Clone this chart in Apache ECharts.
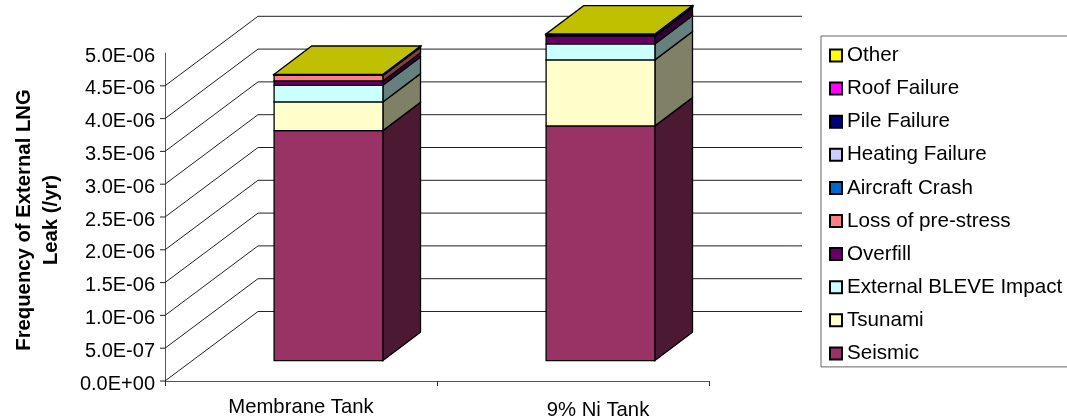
<!DOCTYPE html>
<html>
  <head>
    <title>External LNG Leak</title>
    <meta charset="utf-8" />
    <script src="https://cdn.jsdelivr.net/npm/echarts@6/dist/echarts.min.js"></script>
    <style>
      html, body { margin: 0; padding: 0; background: #fff; overflow: hidden; }
    </style>
  </head>
  <body>
    <div id="main" style="width: 1067px;height:418px;"></div>
    <script type="text/javascript">
    var categories = ['Membrane Tank', '9% Ni Tank'];

    // one list per leak cause, in /yr, same order as categories
    var seismic = [3.506e-6, 3.578e-6];
    var tsunami = [0.437e-6, 1.006e-6];
    var bleve = [0.254e-6, 0.244e-6];
    var overfill = [0.066e-6, 0.122e-6];
    var lossPrestress = [0.084e-6, 0.004e-6];
    var aircraftCrash = [0.003e-6, 0.003e-6];
    var heatingFailure = [0.002e-6, 0.002e-6];
    var pileFailure = [0.002e-6, 0.002e-6];
    var roofFailure = [0.005e-6, 0.005e-6];
    var other = [0.005e-6, 0.014e-6];

    var gridValues = [0, 0.5e-6, 1e-6, 1.5e-6, 2e-6, 2.5e-6, 3e-6, 3.5e-6, 4e-6, 4.5e-6];

    // bottom to top of the stack
    var layers = [
      { name: 'Seismic', values: seismic, color: '#993366', side: '#4c1933', top: '#732650' },
      { name: 'Tsunami', values: tsunami, color: '#ffffcc', side: '#808066', top: '#c0c099' },
      { name: 'External BLEVE Impact', values: bleve, color: '#ccffff', side: '#668080', top: '#99c0c0' },
      { name: 'Overfill', values: overfill, color: '#660066', side: '#330033', top: '#4c004c' },
      { name: 'Loss of pre-stress', values: lossPrestress, color: '#ff8080', side: '#804040', top: '#c06060' },
      { name: 'Aircraft Crash', values: aircraftCrash, color: '#0066cc', side: '#003366', top: '#004c99' },
      { name: 'Heating Failure', values: heatingFailure, color: '#ccccff', side: '#666680', top: '#9999c0' },
      { name: 'Pile Failure', values: pileFailure, color: '#000080', side: '#000040', top: '#000060' },
      { name: 'Roof Failure', values: roofFailure, color: '#ff00ff', side: '#800080', top: '#c000c0' },
      { name: 'Other', values: other, color: '#ffff00', side: '#808000', top: '#c0c000' }
    ];

    // fake 3D: how far the back wall and the columns sit from the front axes
    var wallDx = 93, wallDy = 69.5;
    var floorDx = 27.5, floorDy = 20.4;
    var depthDx = 37.6, depthDy = 28.3;
    var tickLen = 5;
    var fontName = '"Liberation Sans", Arial, sans-serif';

    function sci(v) {
      var parts = v.toExponential(1).split('e');
      var exp = parseInt(parts[1], 10);
      var digits = Math.abs(exp) < 10 ? '0' + Math.abs(exp) : '' + Math.abs(exp);
      return parts[0] + 'E' + (exp < 0 ? '-' : '+') + digits;
    }

    // tick left of the axis, slanted line over the side wall, then the back wall line
    function renderGrid(params, api) {
      var p = api.coord([0, api.value(0)]);
      var cs = params.coordSys;
      return {
        type: 'polyline',
        shape: { points: [
          [cs.x - tickLen, p[1]],
          [cs.x, p[1]],
          [cs.x + wallDx, p[1] - wallDy],
          [cs.x + cs.width + wallDx, p[1] - wallDy]
        ] },
        style: { stroke: '#222', lineWidth: 1, fill: 'none' },
        silent: true
      };
    }

    function makeRenderColumn(layer, isLast) {
      return function (params, api) {
        var low = api.coord([api.value(0), api.value(1)]);
        var high = api.coord([api.value(0), api.value(2)]);
        var w = api.size([1, 0])[0] * 0.4;
        var x0 = low[0] - w / 2 + floorDx;
        var x1 = x0 + w;
        var y0 = low[1] - floorDy;
        var y1 = high[1] - floorDy;
        var edge = { stroke: '#000', lineWidth: 1.3, lineJoin: 'miter' };
        var children = [
          {
            type: 'polygon',
            shape: { points: [[x1, y0], [x1 + depthDx, y0 - depthDy], [x1 + depthDx, y1 - depthDy], [x1, y1]] },
            style: Object.assign({ fill: layer.side }, edge)
          },
          {
            type: 'polygon',
            shape: { points: [[x0, y0], [x1, y0], [x1, y1], [x0, y1]] },
            style: Object.assign({ fill: layer.color }, edge)
          }
        ];
        if (isLast) {
          children.push({
            type: 'polygon',
            shape: { points: [[x0, y1], [x1, y1], [x1 + depthDx, y1 - depthDy], [x0 + depthDx, y1 - depthDy]] },
            style: Object.assign({ fill: layer.top }, edge)
          });
        }
        return { type: 'group', children: children, silent: true };
      };
    }

    function buildSeries() {
      var series = [{
        type: 'custom',
        renderItem: renderGrid,
        data: gridValues.map(function (v) { return [v]; }),
        encode: { y: 0 },
        silent: true,
        z: 1
      }];
      var running = categories.map(function () { return 0; });
      layers.forEach(function (layer, k) {
        var rows = categories.map(function (c, i) {
          var row = [i, running[i], running[i] + layer.values[i]];
          running[i] += layer.values[i];
          return row;
        });
        series.push({
          type: 'custom',
          name: layer.name,
          renderItem: makeRenderColumn(layer, k === layers.length - 1),
          data: rows,
          encode: { x: 0, y: [1, 2] },
          itemStyle: { color: layer.color, borderColor: '#000', borderWidth: 1 },
          silent: true,
          z: 2 + k
        });
      });
      return series;
    }

    var myChart = echarts.init(document.getElementById('main'));

    var option = {
      animation: false,
      backgroundColor: '#fff',
      textStyle: { fontFamily: fontName, color: '#000' },
      grid: { left: 165, right: 358, top: 53, bottom: 37, outerBoundsMode: 'none' },
      legend: {
        orient: 'vertical',
        left: 821,
        top: 36,
        padding: [9, 20, 3, 8],
        itemWidth: 12,
        itemHeight: 12,
        itemGap: 12.1,
        icon: 'rect',
        borderColor: '#666',
        borderWidth: 1,
        selectedMode: false,
        data: layers.map(function (l) { return l.name; }).reverse(),
        textStyle: { fontFamily: fontName, fontSize: 20.6, color: '#000', lineHeight: 20 }
      },
      xAxis: {
        type: 'category',
        data: categories,
        axisLine: { lineStyle: { color: '#555', width: 1 } },
        axisTick: { show: true, alignWithLabel: false, length: 5, lineStyle: { color: '#333' } },
        axisLabel: {
          interval: 0,
          margin: 16,
          fontFamily: fontName,
          fontSize: 20.3,
          color: '#000',
          formatter: function (v, i) { return i === 1 ? '{shifted|' + v + '}' : v; },
          rich: { shifted: { fontFamily: fontName, fontSize: 20.3, color: '#000', padding: [3, 0, 0, 50] } }
        }
      },
      yAxis: {
        type: 'value',
        min: 0,
        max: 5e-6,
        interval: 5e-7,
        name: '{t|Frequency of External LNG}\n{t|Leak (/yr)}',
        nameLocation: 'middle',
        nameRotate: 90,
        nameGap: 100,
        nameTextStyle: {
          rich: { t: { fontFamily: fontName, fontSize: 20.3, fontWeight: 'bold', color: '#000', lineHeight: 27, padding: [0, 6, 0, 0] } }
        },
        axisLine: { show: true, lineStyle: { color: '#555', width: 1 } },
        axisTick: { show: false },
        axisLabel: {
          margin: 10,
          formatter: function (v) { return '{v|' + sci(v) + '}'; },
          rich: { v: { fontFamily: fontName, fontSize: 20, color: '#000', padding: [6, 0, 0, 0] } }
        },
        splitLine: { show: false }
      },
      series: buildSeries()
    };

    myChart.setOption(option);
    </script>
  </body>
</html>
